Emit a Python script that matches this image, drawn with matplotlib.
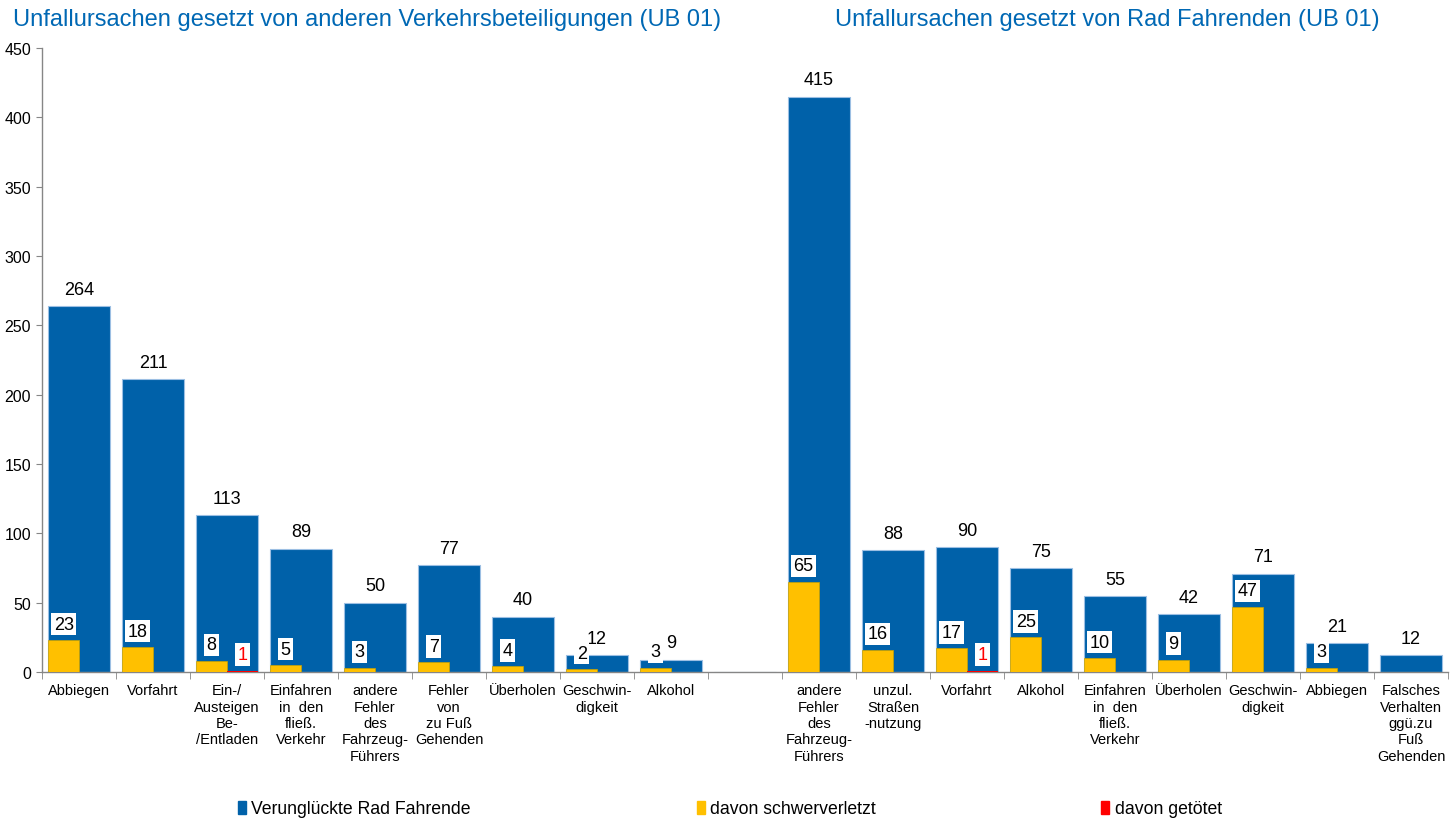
import matplotlib
matplotlib.use("Agg")
import matplotlib.pyplot as plt
from matplotlib.patches import Patch
import numpy as np

plt.rcParams['font.family'] = ['Liberation Sans', 'DejaVu Sans']

# categories (empty slot separates the two groups)
categories = [
    "Abbiegen", "Vorfahrt", "Ein-/\nAusteigen\nBe-\n/Entladen",
    "Einfahren\nin  den\nfließ.\nVerkehr", "andere\nFehler\ndes\nFahrzeug-\nFührers",
    "Fehler\nvon\nzu Fuß\nGehenden", "Überholen", "Geschwin-\ndigkeit", "Alkohol",
    "",
    "andere\nFehler\ndes\nFahrzeug-\nFührers", "unzul.\nStraßen\n-nutzung", "Vorfahrt",
    "Alkohol", "Einfahren\nin  den\nfließ.\nVerkehr", "Überholen", "Geschwin-\ndigkeit",
    "Abbiegen", "Falsches\nVerhalten\nggü.zu\nFuß\nGehenden",
]
verunglueckt = [264, 211, 113, 89, 50, 77, 40, 12, 9, 0,
                415, 88, 90, 75, 55, 42, 71, 21, 12]
schwer = [23, 18, 8, 5, 3, 7, 4, 2, 3, 0,
          65, 16, 17, 25, 10, 9, 47, 3, 0]
getoetet = [0, 0, 1, 0, 0, 0, 0, 0, 0, 0,
            0, 0, 1, 0, 0, 0, 0, 0, 0]

title_left = "Unfallursachen gesetzt von anderen Verkehrsbeteiligungen (UB 01)"
title_right = "Unfallursachen gesetzt von Rad Fahrenden (UB 01)"
legend_labels = ["Verunglückte Rad Fahrende", "davon schwerverletzt", "davon getötet"]

BLUE = '#0061A9'
YELLOW = '#FFC000'
RED = '#FF0000'
TITLE_C = '#0068B4'
GRAY = '#868686'


def main():
    W, H = 1454, 820
    fig = plt.figure(figsize=(W / 100, H / 100), dpi=100)
    ax = fig.add_axes([42 / W, (H - 673) / H, (1448 - 42) / W, (673 - 49) / H])

    x = np.arange(len(categories))
    bw = 0.83
    ax.bar(x, verunglueckt, width=bw, color=BLUE, edgecolor='#9CBFE3', linewidth=0.8, zorder=2)
    ax.bar(x - bw / 4, schwer, width=bw / 2, color=YELLOW, edgecolor='#C9A200', linewidth=0.5, zorder=3)
    ax.bar(x + bw / 4, getoetet, width=bw / 2, color=RED, linewidth=0, zorder=3)

    # value labels
    for i in range(len(categories)):
        if verunglueckt[i] > 0:
            ax.annotate(str(verunglueckt[i]), (x[i], verunglueckt[i]), xytext=(0, 12),
                        textcoords='offset points', ha='center', va='center',
                        fontsize=13, zorder=5)
        if schwer[i] > 0:
            ax.annotate(str(schwer[i]), (x[i] - bw / 4, schwer[i]), xytext=(0, 11.5),
                        textcoords='offset points', ha='center', va='center', fontsize=13,
                        bbox=dict(boxstyle='square,pad=0.15', fc='white', ec='none'), zorder=6)
        if getoetet[i] > 0:
            ax.annotate(str(getoetet[i]), (x[i] + bw / 4, getoetet[i]), xytext=(0, 11.5),
                        textcoords='offset points', ha='center', va='center', fontsize=13,
                        color=RED,
                        bbox=dict(boxstyle='square,pad=0.15', fc='white', ec='none'), zorder=6)

    ax.set_xlim(-0.5, len(categories) - 0.5)
    ax.set_ylim(0, 450)
    ax.set_yticks(np.arange(0, 451, 50))
    ax.tick_params(axis='y', labelsize=11.5, length=4, color=GRAY, pad=4)

    ax.set_xticks(x)
    ax.set_xticklabels(categories, fontsize=10.5, linespacing=1.22)
    ax.set_xticks(np.arange(-0.5, len(categories), 1), minor=True)
    ax.tick_params(axis='x', which='major', length=0, pad=8)
    ax.tick_params(axis='x', which='minor', length=5, color=GRAY)

    for s in ['top', 'right']:
        ax.spines[s].set_visible(False)
    for s in ['left', 'bottom']:
        ax.spines[s].set_color(GRAY)
        ax.spines[s].set_linewidth(1)

    fig.text(13 / W, 1 - 20 / H, title_left, fontsize=17, color=TITLE_C, va='center', ha='left')
    fig.text(835 / W, 1 - 20 / H, title_right, fontsize=17, color=TITLE_C, va='center', ha='left')

    handles = [Patch(color=BLUE), Patch(color=YELLOW), Patch(color=RED)]
    fig.legend(handles, legend_labels, loc='center', bbox_to_anchor=(730 / W, 1 - 810 / H),
               ncol=3, frameon=False, fontsize=12.7, handlelength=0.45, handleheight=0.75,
               handletextpad=0.3, columnspacing=12.8, borderpad=0)

    fig.savefig('out.png', dpi=100)


if __name__ == "__main__":
    main()
